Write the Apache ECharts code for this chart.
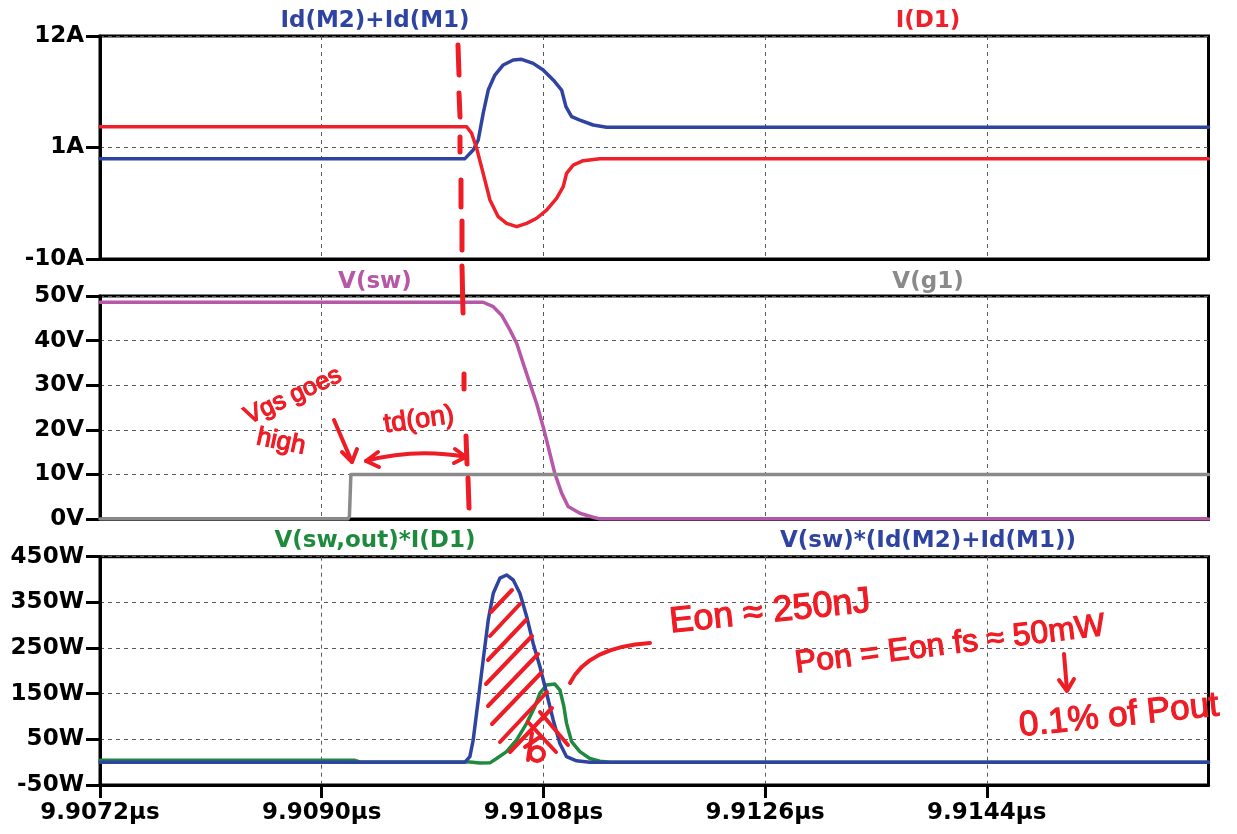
<!DOCTYPE html>
<html><head><meta charset="utf-8">
<script src="https://cdn.jsdelivr.net/npm/echarts@6.0.0/dist/echarts.min.js"></script>
<style>html,body{margin:0;padding:0;background:#fff}#c{width:1237px;height:834px}</style>
</head><body><div id="c"></div>
<script>
// ---------- DATA (time in ns) ----------
const timeTicksNs = [9907.2, 9909.0, 9910.8, 9912.6, 9914.4];
const timeMinNs = 9907.2, timeMaxNs = 9916.2;
const currentTicks = [-10, 1, 12];
const powerTicks = [-50, 50, 150, 250, 350, 450];

// Id(M2)+Id(M1)  [A]
const idTime   = [9907.2, 9910.163, 9910.230, 9910.271, 9910.311, 9910.352, 9910.406, 9910.474, 9910.555, 9910.623, 9910.717, 9910.798, 9910.880, 9910.948, 9910.983, 9911.029, 9911.096, 9911.204, 9911.313, 9916.2];
const idValues = [-0.1, -0.1, 0.75, 1.74, 4.37, 6.67, 8.15, 9.14, 9.63, 9.7, 9.3, 8.65, 7.66, 6.67, 5.03, 4.04, 3.71, 3.22, 3.0, 3.0];

// I(D1)  [A]
const iD1Time   = [9907.2, 9910.177, 9910.217, 9910.258, 9910.311, 9910.366, 9910.433, 9910.501, 9910.583, 9910.664, 9910.745, 9910.826, 9910.907, 9910.961, 9910.988, 9911.042, 9911.123, 9911.259, 9916.2];
const iD1Values = [3.05, 3.05, 2.4, 0.92, -1.55, -4.18, -5.83, -6.48, -6.81, -6.48, -5.98, -5.17, -4.01, -2.87, -1.55, -0.73, -0.30, -0.1, -0.1];

// V(sw)  [V]
const vswTime   = [9907.2, 9910.311, 9910.393, 9910.461, 9910.528, 9910.583, 9910.636, 9910.690, 9910.745, 9910.798, 9910.839, 9910.893, 9910.948, 9911.001, 9911.096, 9911.204, 9911.259, 9916.2];
const vswValues = [48.6, 48.6, 47.6, 45.7, 42.4, 39.4, 34.9, 30.4, 25.9, 20.7, 16.2, 10.2, 5.8, 2.8, 1.3, 0.4, 0.0, 0.0];

// V(g1)  [V]
const vg1Time   = [9907.2, 9909.213, 9909.225, 9909.237, 9916.2];
const vg1Values = [0, 0, 0.6, 10, 10];

// V(sw,out)*I(D1)  [W]
const pDiodeTime   = [9907.2, 9909.270, 9909.310, 9910.203, 9910.285, 9910.366, 9910.420, 9910.501, 9910.583, 9910.664, 9910.731, 9910.772, 9910.826, 9910.893, 9910.934, 9910.966, 9910.988, 9911.029, 9911.096, 9911.177, 9911.259, 9911.340, 9916.2];
const pDiodeValues = [4, 4, 0.5, 0.5, -2, -1.5, 8, 23, 49, 85, 122, 151, 169, 171, 158, 122, 85, 45, 23, 8, 2, 0, 0];

// V(sw)*(Id(M2)+Id(M1))  [W]
const pFetTime   = [9907.2, 9910.163, 9910.203, 9910.230, 9910.271, 9910.311, 9910.352, 9910.393, 9910.447, 9910.501, 9910.555, 9910.609, 9910.664, 9910.717, 9910.772, 9910.826, 9910.880, 9910.934, 9910.988, 9911.069, 9911.177, 9916.2];
const pFetValues = [0, 0, 12, 48.6, 136, 224, 311, 370, 403, 410, 399, 370, 319, 260, 209, 151, 92, 41, 12, 3, 0, 0];

// ---------- CHART ----------
const zip = (t, v) => t.map((x, i) => [x, v[i]]);
const C = {
  blue: '#2f44a0', red: '#f0202a', magenta: '#b757a8', gray: '#8a8a8a', green: '#1f8a3e', ink: '#ee1c25'
};
const FONT = 'DejaVu Sans';
const gridDash = { color: '#5a5a5a', width: 1, type: [4, 4] };
const grids = [
  { left: 100, right: 28.5, top: 36, height: 223 },
  { left: 100, right: 28.5, top: 296, height: 223 },
  { left: 100, right: 28.5, top: 556.7, height: 228.3 }
].map(g => Object.assign(g, { show: true, borderColor: '#000', borderWidth: 3, backgroundColor: 'transparent' }));

function xAxis(i, labels) {
  return {
    type: 'value', gridIndex: i, min: timeMinNs, max: timeMaxNs, position: 'bottom',
    axisLine: { show: true, onZero: false, lineStyle: { color: '#000', width: 3 } },
    axisTick: { show: labels, length: 13, lineStyle: { color: '#000', width: 3 }, customValues: timeTicksNs },
    axisLabel: { show: labels, customValues: timeTicksNs, margin: 17, color: '#000', fontFamily: FONT, fontWeight: 'bold', fontSize: 23,
      formatter: v => (v / 1000).toFixed(4) + 'µs', hideOverlap: false },
    splitLine: { show: true, lineStyle: gridDash }
  };
}
function yAxis(i, opts, unit) {
  return Object.assign({
    type: 'value', gridIndex: i, position: 'left',
    axisLine: { show: true, onZero: false, lineStyle: { color: '#000', width: 3 } },
    axisTick: { show: true, length: 14, lineStyle: { color: '#000', width: 3 } },
    axisLabel: { color: '#000', fontFamily: FONT, fontWeight: 'bold', fontSize: 23, margin: 16, formatter: v => v + unit, hideOverlap: false },
    splitLine: { show: true, lineStyle: gridDash }
  }, opts);
}
const yA = yAxis(0, { min: -10, max: 12 }, 'A');
yA.axisTick.customValues = currentTicks; yA.axisLabel.customValues = currentTicks;
const yV = yAxis(1, { min: 0, max: 50, interval: 10 }, 'V');
const yW = yAxis(2, { min: -50, max: 450 }, 'W');
yW.axisTick.customValues = powerTicks; yW.axisLabel.customValues = powerTicks;

function line(name, xi, t, v, color) {
  return { name, type: 'line', xAxisIndex: xi, yAxisIndex: xi, data: zip(t, v), showSymbol: false, symbol: 'none',
    lineStyle: { color, width: 3.5, join: 'round', cap: 'round' }, itemStyle: { color }, animation: false };
}

const titleTxt = (text, x, y, color) => ({ type: 'text', x, y, style: { text, fill: color, font: 'bold 23px "' + FONT + '"', align: 'center', verticalAlign: 'middle' } });
const ink = (text, x, y, deg, size) => ({ type: 'text', x, y, rotation: deg * Math.PI / 180, style: { text, fill: C.ink, stroke: C.ink, lineWidth: 1.2, font: size + 'px "Liberation Sans"', align: 'center', verticalAlign: 'middle' }, z: 100 });
const stroke = { stroke: C.ink, lineWidth: 4, lineCap: 'round', lineJoin: 'round', fill: null };
const seg = (x1, y1, x2, y2, w) => ({ type: 'line', shape: { x1, y1, x2, y2 }, style: Object.assign({}, stroke, w ? { lineWidth: w } : {}), z: 100 });
const pl = pts => ({ type: 'polyline', shape: { points: pts }, style: stroke, z: 100 });
const bez = (x1, y1, cx, cy, x2, y2) => ({ type: 'bezierCurve', shape: { x1, y1, cpx1: cx, cpy1: cy, x2, y2 }, style: stroke, z: 100 });

const dashes = [[458,45,459,75],[459,93,460,117],[460,137,460,152],[461,180,461,207],[462,221,462,250],[462,266,463,313],[464,374,464,389],[466,436,467,464],[468,478,469,508]];
const hatch = [[491,612,512,590],[490,636,520,604],[488,660,526,620],[486,684,532,636],[488,706,538,654],[492,724,541,673],[500,742,547,692],[510,752,552,708],
  [540,712,568,745],[528,722,556,752],[525,747,540,737],[528,760,532,733]];

const graphic = [
  titleTxt('Id(M2)+Id(M1)', 375, 21, C.blue), titleTxt('I(D1)', 928, 21, C.red),
  titleTxt('V(sw)', 375, 282, C.magenta), titleTxt('V(g1)', 928, 282, C.gray),
  titleTxt('V(sw,out)*I(D1)', 375, 541, C.green), titleTxt('V(sw)*(Id(M2)+Id(M1))', 928, 541, C.blue),
  ...dashes.map(d => seg(d[0], d[1], d[2], d[3], 5)),
  ...hatch.map(d => seg(d[0], d[1], d[2], d[3])),
  { type: 'circle', shape: { cx: 537, cy: 754, r: 7 }, style: stroke, z: 100 },
  ink('Vgs goes', 293, 396, 25, 25), ink('high', 281, 442, -12, 26),
  pl([[334, 420], [352, 462]]), pl([[342, 452], [352, 462], [357, 449]]),
  ink('td(on)', 419, 420, 8, 27),
  bez(366, 461, 415, 448, 466, 457), pl([[378, 452], [366, 461], [379, 467]]), pl([[455, 449], [466, 457], [454, 463]]),
  bez(570, 683, 588, 647, 650, 643),
  ink('Eon ≈ 250nJ', 770, 612, 6, 36),
  ink('Pon = Eon fs ≈ 50mW', 950, 645, 7, 32),
  pl([[1064, 654], [1067, 690]]), pl([[1059, 680], [1067, 691], [1074, 679]]),
  ink('0.1% of Pout', 1119, 716, 6, 35)
];

const option = {
  animation: false,
  backgroundColor: '#fff',
  grid: grids,
  xAxis: [xAxis(0, false), xAxis(1, false), xAxis(2, true)],
  yAxis: [yA, yV, yW],
  series: [
    line('Id(M2)+Id(M1)', 0, idTime, idValues, C.blue),
    line('I(D1)', 0, iD1Time, iD1Values, C.red),
    line('V(sw)', 1, vswTime, vswValues, C.magenta),
    line('V(g1)', 1, vg1Time, vg1Values, C.gray),
    line('V(sw,out)*I(D1)', 2, pDiodeTime, pDiodeValues, C.green),
    line('V(sw)*(Id(M2)+Id(M1))', 2, pFetTime, pFetValues, C.blue)
  ],
  graphic
};
const chart = echarts.init(document.getElementById('c'), null, { renderer: 'canvas' });
chart.setOption(option);
</script></body></html>
